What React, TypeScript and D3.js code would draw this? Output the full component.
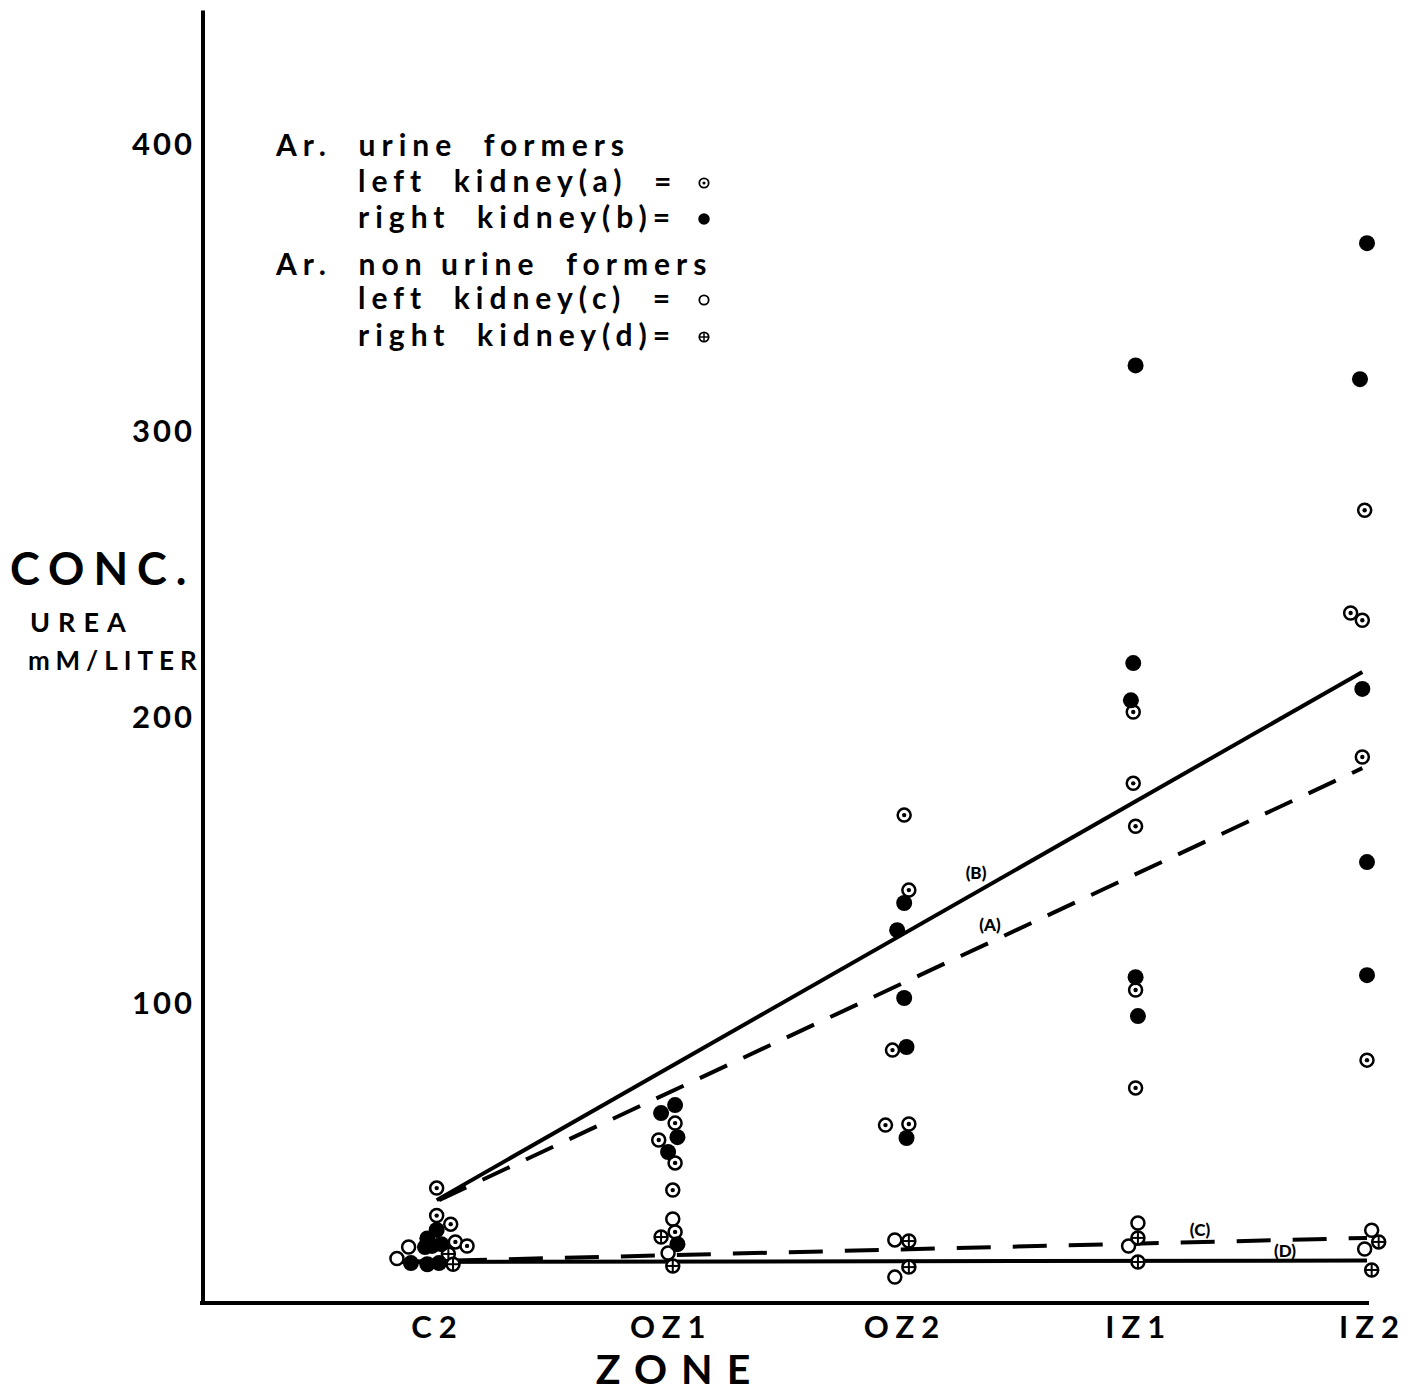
import React, { useEffect, useRef } from "react";
import * as d3 from "d3";

// zone categories along the x axis
const zones = ["C2", "OZ1", "OZ2", "IZ1", "IZ2"];
const yTicks = [100, 200, 300, 400];

// points: [zone position (index + small jitter), urea mM/liter]
// (a) urine formers, left kidney
const seriesA = [
  [0.02, 35.6], [0.02, 26], [0.08, 23], [0.1, 16.8], [0.15, 15.4],
  [1.04, 58.3], [0.97, 52.4], [1.04, 44.4], [1.03, 34.9], [1.04, 20.3],
  [2.02, 165.9], [2.04, 139.7], [1.97, 83.8], [1.94, 57.6], [2.04, 58],
  [3.0, 201.9], [3.0, 177], [3.01, 162], [3.01, 104.8], [3.01, 70.6],
  [3.99, 272.4], [3.93, 236.5], [3.98, 234], [3.98, 186.2], [4.0, 80.3],
];
// (b) urine formers, right kidney
const seriesB = [
  [-0.02, 18], [0.02, 21], [-0.03, 15], [0.04, 16], [-0.09, 9.4], [-0.02, 9], [0.03, 9.4], [0.0, 15.4],
  [0.98, 61.8], [1.04, 64.6], [1.05, 53.4], [1.01, 48.2], [1.05, 16],
  [2.02, 135.2], [1.99, 125.7], [2.02, 102], [2.03, 84.9], [2.03, 53.1],
  [3.01, 323], [3.0, 219], [2.99, 206], [3.01, 109.3], [3.02, 95.7],
  [4.0, 365.7], [3.97, 318.2], [3.98, 210], [4.0, 149.5], [4.0, 110],
];
// (c) non urine formers, left kidney
const seriesC = [
  [-0.1, 15], [-0.15, 11],
  [1.03, 24.8], [1.01, 12.9],
  [1.98, 17.5], [1.98, 4.5],
  [3.02, 23.4], [2.98, 15.4],
  [4.02, 20.9], [3.99, 14.3],
];
// (d) non urine formers, right kidney
const seriesD = [
  [0.07, 12.6], [0.09, 9],
  [0.98, 18.5], [1.03, 8.4],
  [2.04, 17.1], [2.04, 8],
  [3.02, 18.2], [3.02, 9.8],
  [4.05, 16.8], [4.02, 7],
];

// regression lines
const lineA = [[0.03, 31.4], [3.98, 182.3]];
const lineB = [[0.02, 31.4], [3.98, 215.9]];
const lineC = [[-0.15, 9.8], [4.0, 18.2]];
const lineD = [[-0.15, 9.8], [4.0, 10.3]];

const legendLines = [
  { text: "Ar.  urine  formers", indent: false, marker: null },
  { text: "left  kidney(a)  =", indent: true, marker: "a" },
  { text: "right  kidney(b)=", indent: true, marker: "b" },
  { text: "Ar.  non urine  formers", indent: false, marker: null },
  { text: "left  kidney(c)  =", indent: true, marker: "c" },
  { text: "right  kidney(d)=", indent: true, marker: "d" },
];

const FONT = "Lato, 'DejaVu Sans', sans-serif";

const App = () => {
  const ref = useRef<SVGSVGElement>(null);

  useEffect(() => {
    const svg = d3.select(ref.current);
    svg.selectAll("*").remove();

    const x = d3.scaleLinear().domain([0, 4]).range([432, 1367]);
    const y = d3.scaleLinear().domain([0, 400]).range([1290, 145]);

    // axis frame
    svg.append("line")
      .attr("x1", 203).attr("x2", 203)
      .attr("y1", y(447)).attr("y2", y(-4.5) + 2)
      .attr("stroke", "black").attr("stroke-width", 4);
    svg.append("line")
      .attr("x1", 200).attr("x2", x(4) + 2)
      .attr("y1", y(-4.5)).attr("y2", y(-4.5))
      .attr("stroke", "black").attr("stroke-width", 4);

    // y tick labels
    const yAxis = d3.axisLeft(y).tickValues(yTicks).tickSize(0).tickPadding(8);
    svg.append("g")
      .attr("transform", "translate(203,0)")
      .call(yAxis)
      .call((g) => g.select(".domain").remove())
      .selectAll("text")
      .attr("font-family", FONT)
      .attr("font-weight", 700)
      .attr("font-size", 31)
      .attr("letter-spacing", 3);

    // x tick labels
    const xAxis = d3.axisBottom(x).tickValues([0, 1, 2, 3, 4])
      .tickFormat((d) => zones[d as number]).tickSize(0).tickPadding(13);
    svg.append("g")
      .attr("transform", `translate(0,${y(-4.5)})`)
      .call(xAxis)
      .call((g) => g.select(".domain").remove())
      .selectAll("text")
      .attr("font-family", FONT)
      .attr("font-weight", 700)
      .attr("font-size", 31)
      .attr("letter-spacing", 7)
      .attr("dx", 5);

    // axis titles
    const title = (t, tx, ty, size, ls, anchor = "start") =>
      svg.append("text")
        .attr("x", tx).attr("y", ty)
        .attr("font-family", FONT).attr("font-weight", 700)
        .attr("font-size", size).attr("letter-spacing", ls)
        .attr("text-anchor", anchor)
        .text(t);
    title("CONC.", 10, 585, 45, 9);
    title("UREA", 30, 632, 27, 8);
    title("mM/LITER", 28, 670, 26, 6);
    title("ZONE", 680, 1384, 41, 14, "middle");

    // regression lines
    const line = d3.line().x((d) => x(d[0])).y((d) => y(d[1]));
    const drawLine = (data, dash) =>
      svg.append("path")
        .attr("d", line(data))
        .attr("fill", "none")
        .attr("stroke", "black")
        .attr("stroke-width", 4)
        .attr("stroke-dasharray", dash);
    drawLine(lineD, null);
    drawLine(lineC, "34,22");
    drawLine(lineB, null);
    drawLine(lineA, "30,18");

    // line labels
    const lab = (t, lx, ly) =>
      svg.append("text")
        .attr("x", lx).attr("y", ly)
        .attr("font-family", FONT).attr("font-weight", 900)
        .attr("font-size", 17).attr("text-anchor", "middle")
        .text(t);
    lab("(B)", 976, 879);
    lab("(A)", 990, 931);
    lab("(C)", 1200, 1236);
    lab("(D)", 1285, 1257);

    // markers
    const marker = (g, kind, cx, cy, s = 1) => {
      if (kind === "b") {
        g.append("circle").attr("cx", cx).attr("cy", cy).attr("r", 8 * s).attr("fill", "black");
        return;
      }
      g.append("circle").attr("cx", cx).attr("cy", cy).attr("r", 6.5 * s)
        .attr("fill", "white").attr("stroke", "black").attr("stroke-width", 2.5 * s);
      if (kind === "a") {
        g.append("circle").attr("cx", cx).attr("cy", cy).attr("r", 2.2 * s).attr("fill", "black");
      }
      if (kind === "d") {
        g.append("line").attr("x1", cx - 6.5 * s).attr("x2", cx + 6.5 * s)
          .attr("y1", cy).attr("y2", cy).attr("stroke", "black").attr("stroke-width", 2 * s);
        g.append("line").attr("x1", cx).attr("x2", cx)
          .attr("y1", cy - 6.5 * s).attr("y2", cy + 6.5 * s).attr("stroke", "black").attr("stroke-width", 2 * s);
      }
    };

    const pts = svg.append("g");
    seriesC.forEach((d) => marker(pts, "c", x(d[0]), y(d[1])));
    seriesD.forEach((d) => marker(pts, "d", x(d[0]), y(d[1])));
    seriesA.forEach((d) => marker(pts, "a", x(d[0]), y(d[1])));
    seriesB.forEach((d) => marker(pts, "b", x(d[0]), y(d[1])));

    // legend
    const lg = svg.append("g");
    const rowY = [156, 192, 228, 275, 309, 346];
    legendLines.forEach((row, i) => {
      lg.append("text")
        .attr("x", row.indent ? 358 : 276)
        .attr("y", rowY[i])
        .attr("font-family", FONT).attr("font-weight", 700)
        .attr("font-size", 30).attr("letter-spacing", 6)
        .style("white-space", "pre")
        .text(row.text);
      if (row.marker) marker(lg, row.marker, 704, rowY[i] - 9, 0.72);
    });
  }, []);

  return (
    <div>
      <svg ref={ref} width={1426} height={1395}
        style={{ position: "absolute", left: 0, top: 0, background: "white" }} />
    </div>
  );
};

export default App;
